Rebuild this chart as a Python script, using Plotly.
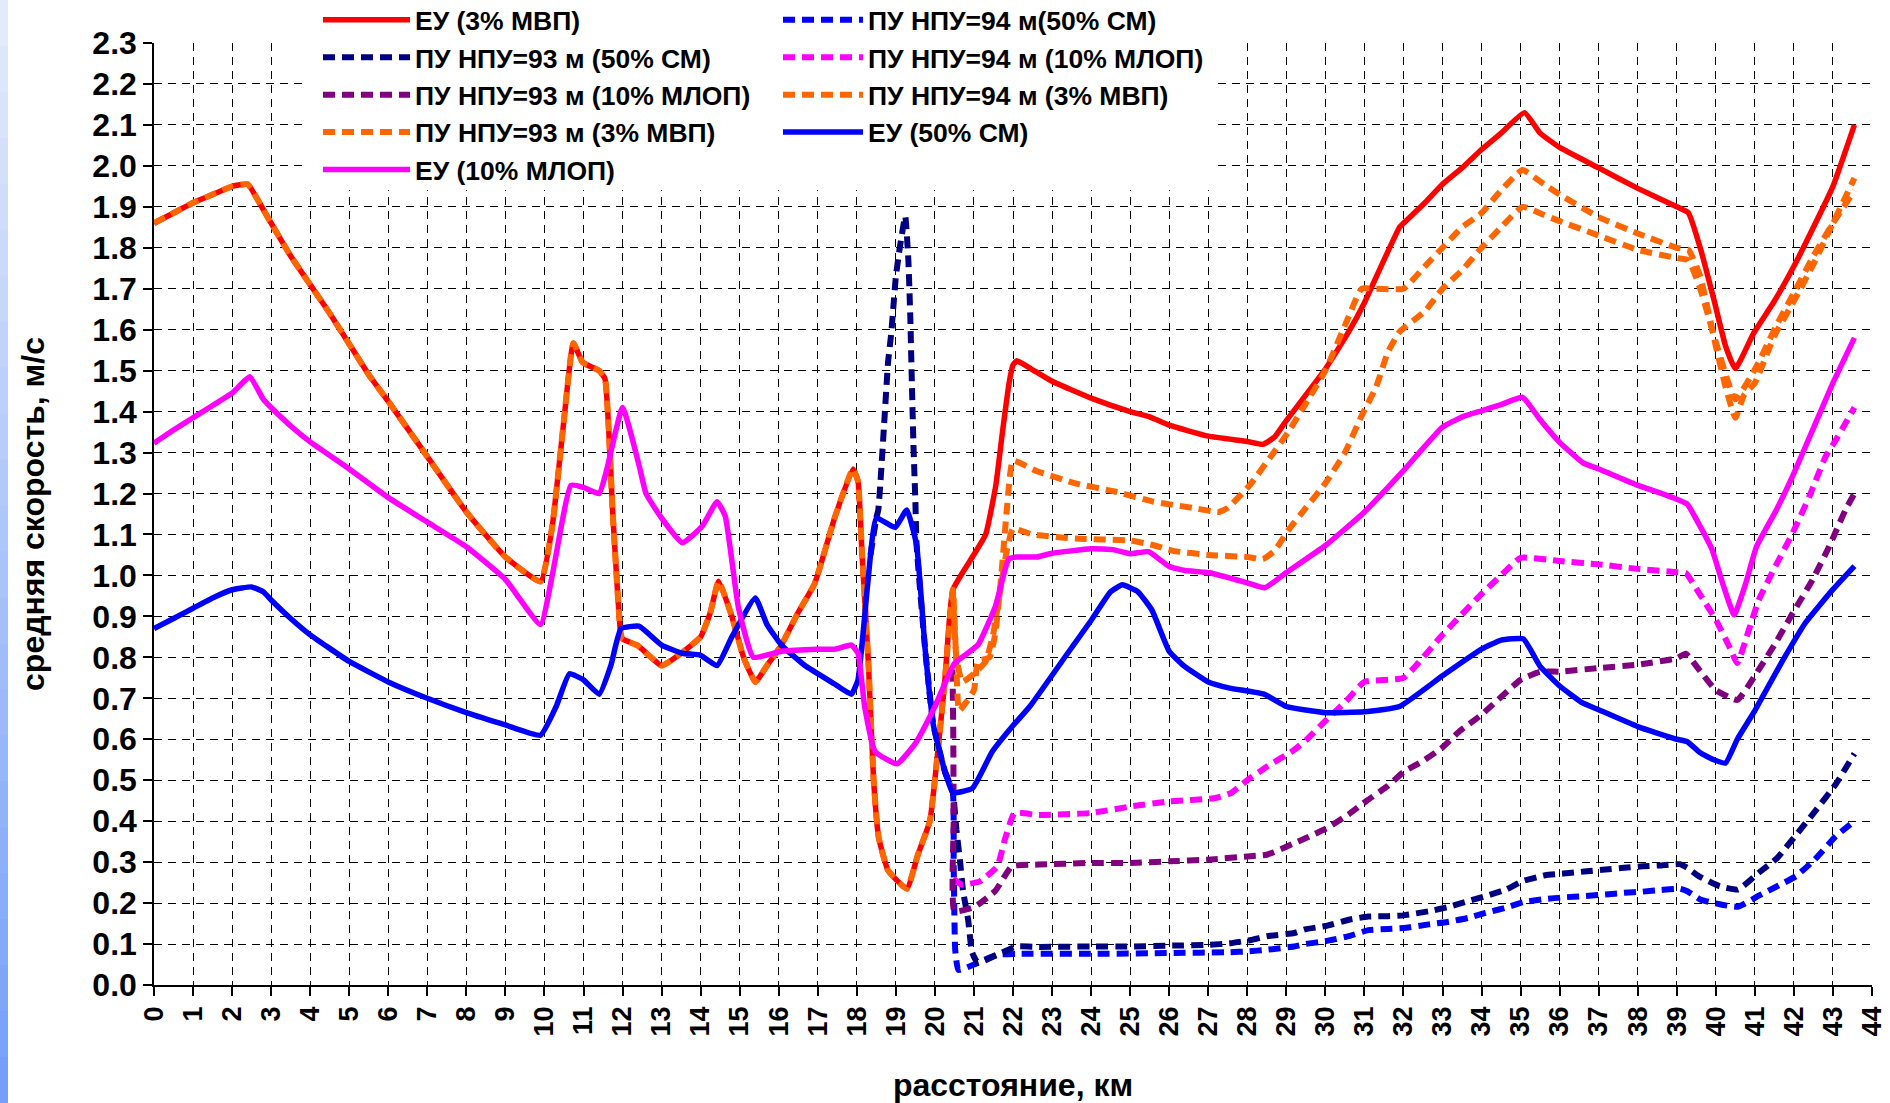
import plotly.graph_objects as go

# ---------------- data ----------------
EU3_X = [0, 0.5, 1, 1.5, 2.0, 2.4, 2.7, 3.0, 3.5, 4.0, 4.5, 5.0, 5.5, 6.0, 7.0, 8.0, 9.0, 9.9,
         10.2, 10.5, 10.74, 10.98, 11.4, 11.55, 11.75, 11.95, 12.0, 12.4, 13.0, 13.5, 14.0, 14.25,
         14.46, 14.8, 15.1, 15.4, 15.7, 16.07, 16.5, 16.92, 17.43, 17.9, 18.03, 18.13, 18.3, 18.43,
         18.56, 18.8, 19.28, 19.57, 19.87, 20.08, 20.26, 20.46]
EU3_Y = [1.86, 1.885, 1.91, 1.93, 1.95, 1.955, 1.91, 1.86, 1.78, 1.71, 1.64, 1.565, 1.49, 1.425,
         1.29, 1.155, 1.045, 0.985, 1.12, 1.38, 1.567, 1.52, 1.50, 1.48, 1.15, 0.86, 0.845, 0.828,
         0.78, 0.81, 0.85, 0.91, 0.986, 0.90, 0.80, 0.74, 0.78, 0.83, 0.91, 0.98, 1.14, 1.26, 1.23,
         1.06, 0.78, 0.50, 0.36, 0.28, 0.235, 0.32, 0.40, 0.575, 0.75, 0.965]
EU3_X2 = [20.96, 21.3, 21.56, 21.73, 21.9, 22.0, 22.1, 22.47, 23.0, 24.0, 25.0, 25.5, 26.0, 27.0,
          28.0, 28.4, 28.7, 29.0, 30.0, 30.6, 31.0, 31.5, 31.9, 32.0, 32.55, 33.0, 33.5, 34.0, 34.5,
          35.1, 35.5, 36.0, 37.0, 38.0, 39.0, 39.3, 39.6, 39.96, 40.25, 40.5, 40.96, 41.5, 42.0,
          42.5, 43.0, 43.55]
EU3_Y2 = [1.045, 1.10, 1.22, 1.35, 1.47, 1.514, 1.524, 1.504, 1.474, 1.433, 1.40, 1.387, 1.367,
          1.34, 1.327, 1.32, 1.338, 1.378, 1.504, 1.595, 1.666, 1.77, 1.85, 1.86, 1.91, 1.955,
          1.995, 2.04, 2.08, 2.13, 2.08, 2.045, 1.995, 1.945, 1.90, 1.885, 1.80, 1.67, 1.56, 1.505,
          1.59, 1.67, 1.755, 1.85, 1.95, 2.10]

PU93_3_TAIL_X = [20.55, 20.62, 21.0, 21.1, 21.4, 21.55, 21.7, 21.85, 22.0, 22.6, 23.6, 24.6, 25.6,
                 26.6, 27.27, 27.5, 28.06, 28.6, 29.05, 29.5, 30.0, 30.5, 30.93, 31.3, 32.0, 32.55,
                 33.0, 33.5, 34.0, 34.5, 35.05, 35.6, 36.0, 37.0, 38.0, 39.0, 39.3, 39.6, 40.0,
                 40.25, 40.5, 40.72, 41.0, 41.5, 42.0, 42.5, 43.0, 43.55]
PU93_3_TAIL_Y = [0.78, 0.67, 0.72, 0.79, 0.80, 0.86, 1.0, 1.17, 1.28, 1.255, 1.225, 1.205, 1.18,
                 1.165, 1.155, 1.165, 1.22, 1.29, 1.35, 1.42, 1.50, 1.61, 1.70, 1.70, 1.70, 1.755,
                 1.80, 1.85, 1.885, 1.94, 1.99, 1.955, 1.93, 1.875, 1.835, 1.80, 1.795, 1.73, 1.56,
                 1.46, 1.385, 1.44, 1.47, 1.585, 1.67, 1.76, 1.86, 1.97]

PU94_3_X = [20.46, 20.55, 20.7, 21.0, 21.3, 21.5, 21.7, 21.85, 22.0, 22.5, 23.6, 25.0, 25.55, 26.1,
            27.0, 28.0, 28.4, 28.7, 29.05, 29.5, 30.0, 30.5, 30.93, 31.3, 31.6, 31.9, 32.55, 33.0,
            33.5, 34.0, 34.5, 35.05, 35.6, 36.0, 37.0, 38.0, 39.0, 39.3, 39.6, 40.0, 40.5, 41.04,
            41.55, 42.0, 42.5, 43.0, 43.55]
PU94_3_Y = [0.965, 0.80, 0.74, 0.76, 0.79, 0.86, 0.98, 1.065, 1.114, 1.10, 1.09, 1.085, 1.075, 1.06,
            1.05, 1.045, 1.04, 1.06, 1.11, 1.165, 1.225, 1.30, 1.39, 1.46, 1.545, 1.595, 1.645, 1.70,
            1.745, 1.80, 1.85, 1.90, 1.88, 1.865, 1.83, 1.795, 1.775, 1.77, 1.70, 1.57, 1.43, 1.51,
            1.61, 1.69, 1.78, 1.86, 1.94]

EU50_X = [0, 0.5, 1, 1.5, 2.0, 2.5, 2.8, 3.0, 3.5, 4.0, 5.0, 6.0, 7.0, 8.0, 9.0, 9.9, 10.3, 10.64,
          11.0, 11.4, 11.7, 11.96, 12.42, 13.0, 13.53, 14.0, 14.42, 14.8, 15.4, 15.7, 16.07, 16.67,
          17.43, 17.86, 18.03, 18.28, 18.5, 18.98, 19.28, 19.53, 19.75, 19.96, 20.26, 20.46, 20.96,
          21.47, 21.97, 22.43, 23.4, 24.0, 24.5, 24.8, 25.2, 25.56, 26.0, 26.37, 27.0, 27.55, 28.43,
          29.0, 30.0, 31.0, 31.9, 33.0, 34.0, 34.5, 35.07, 35.5, 36.0, 36.6, 37.0, 38.0, 39.0,
          39.27, 39.6, 39.95, 40.25, 40.55, 41.0, 41.7, 42.3, 43.0, 43.55]
EU50_Y = [0.87, 0.895, 0.92, 0.945, 0.965, 0.972, 0.96, 0.94, 0.895, 0.855, 0.79, 0.74, 0.70, 0.665,
          0.635, 0.61, 0.68, 0.76, 0.745, 0.71, 0.78, 0.87, 0.876, 0.83, 0.81, 0.805, 0.78, 0.85,
          0.945, 0.88, 0.83, 0.78, 0.735, 0.71, 0.745, 0.98, 1.14, 1.117, 1.16, 1.075, 0.82, 0.635,
          0.52, 0.47, 0.48, 0.57, 0.63, 0.68, 0.81, 0.89, 0.96, 0.977, 0.96, 0.915, 0.815, 0.78,
          0.74, 0.725, 0.71, 0.68, 0.665, 0.667, 0.68, 0.755, 0.82, 0.842, 0.845, 0.778, 0.73,
          0.688, 0.672, 0.631, 0.60, 0.594, 0.567, 0.55, 0.542, 0.60, 0.67, 0.79, 0.885, 0.966,
          1.023]

EU10_X = [0, 0.5, 1, 1.5, 2.0, 2.45, 2.8, 3.0, 3.5, 4.0, 5.0, 6.0, 7.0, 8.0, 9.0, 9.9, 10.2, 10.68,
          11.0, 11.4, 11.6, 12.0, 12.42, 12.6, 13.0, 13.53, 14.04, 14.42, 14.63, 14.97, 15.35,
          16.07, 17.0, 17.43, 17.86, 18.03, 18.2, 18.47, 19.03, 19.5, 20.0, 20.5, 21.1, 21.55,
          21.89, 22.1, 22.6, 23.0, 24.0, 24.56, 25.0, 25.47, 26.0, 26.4, 27.0, 28.0, 28.45, 29.0,
          30.0, 31.0, 32.0, 33.0, 33.5, 34.0, 34.5, 35.05, 35.5, 36.0, 36.6, 37.0, 38.0, 38.55,
          39.0, 39.27, 39.5, 39.9, 40.17, 40.47, 40.77, 41.04, 41.55, 41.97, 42.56, 43.0, 43.55]
EU10_Y = [1.323, 1.355, 1.385, 1.415, 1.445, 1.485, 1.43, 1.41, 1.365, 1.326, 1.26, 1.19, 1.13,
          1.07, 0.99, 0.88, 1.0, 1.22, 1.215, 1.20, 1.26, 1.41, 1.27, 1.20, 1.14, 1.08, 1.12, 1.18,
          1.145, 0.92, 0.80, 0.815, 0.82, 0.82, 0.83, 0.81, 0.68, 0.57, 0.54, 0.59, 0.68, 0.785,
          0.83, 0.925, 1.04, 1.045, 1.045, 1.054, 1.065, 1.063, 1.053, 1.058, 1.022, 1.012, 1.007,
          0.982, 0.97, 1.007, 1.073, 1.155, 1.256, 1.362, 1.387, 1.402, 1.417, 1.435, 1.38, 1.325,
          1.275, 1.26, 1.22, 1.202, 1.186, 1.174, 1.137, 1.064, 0.982, 0.904, 0.982, 1.07, 1.16,
          1.243, 1.373, 1.47, 1.58]

PU93_50_X = [18.35, 18.5, 18.55, 18.6, 18.7, 18.8, 18.88, 18.94, 19.0, 19.1, 19.24, 19.32, 19.37,
             19.41, 19.45, 19.5, 19.53, 19.75, 19.96, 20.26, 20.46, 20.55, 20.64, 20.72, 20.85,
             20.95, 21.1, 21.6, 22.08, 22.64, 24.0, 25.0, 26.0, 27.0, 27.57, 28.1, 28.5, 29.2,
             29.48, 30.0, 30.63, 31.1, 31.6, 32.0, 32.65, 33.13, 33.66, 34.1, 34.63, 35.06, 35.63,
             36.1, 36.63, 37.17, 37.65, 38.13, 38.6, 39.08, 39.27, 39.56, 40.1, 40.57, 41.1, 41.57,
             42.06, 42.54, 43.07, 43.55]
PU93_50_Y = [1.05, 1.14, 1.16, 1.22, 1.37, 1.52, 1.59, 1.66, 1.73, 1.80, 1.877, 1.77, 1.63, 1.47,
             1.32, 1.18, 1.075, 0.82, 0.635, 0.52, 0.47, 0.38, 0.306, 0.23, 0.16, 0.08, 0.054,
             0.074, 0.094, 0.093, 0.094, 0.094, 0.096, 0.098, 0.102, 0.11, 0.119, 0.127, 0.136,
             0.144, 0.16, 0.167, 0.168, 0.17, 0.18, 0.19, 0.205, 0.217, 0.233, 0.254, 0.268, 0.272,
             0.277, 0.282, 0.286, 0.29, 0.292, 0.295, 0.286, 0.266, 0.241, 0.233, 0.274, 0.31,
             0.367, 0.424, 0.49, 0.565]

PU94_50_X = [20.26, 20.46, 20.48, 20.5, 20.52, 20.6, 21.0, 21.6, 22.08, 24.0, 26.0, 27.57, 28.0,
             28.5, 29.2, 29.48, 30.0, 30.63, 31.1, 31.6, 32.0, 32.65, 33.13, 33.66, 34.1, 34.63,
             35.06, 35.63, 36.1, 36.63, 37.17, 37.65, 38.13, 38.6, 39.08, 39.27, 39.6, 40.1, 40.57,
             41.1, 41.57, 42.06, 42.54, 43.07, 43.55]
PU94_50_Y = [0.52, 0.47, 0.30, 0.16, 0.086, 0.037, 0.05, 0.074, 0.076, 0.076, 0.078, 0.08, 0.082,
             0.086, 0.094, 0.10, 0.107, 0.12, 0.134, 0.137, 0.139, 0.148, 0.154, 0.164, 0.176,
             0.189, 0.202, 0.21, 0.214, 0.217, 0.221, 0.225, 0.228, 0.232, 0.235, 0.229, 0.209,
             0.197, 0.191, 0.218, 0.241, 0.266, 0.307, 0.363, 0.40]

PU93_10_X = [20.45, 20.47, 20.48, 20.5, 21.0, 21.1, 21.55, 21.97, 22.64, 24.0, 25.0, 26.0, 27.0,
             28.0, 28.5, 29.2, 29.53, 30.06, 30.6, 31.06, 31.6, 32.0, 32.5, 33.0, 33.44, 34.0, 35.0,
             35.5, 36.0, 37.0, 38.0, 39.0, 39.23, 39.57, 40.0, 40.55, 41.1, 41.53, 41.97, 42.48,
             42.9, 43.32, 43.55]
PU93_10_Y = [0.77, 0.62, 0.40, 0.18, 0.19, 0.196, 0.23, 0.29, 0.294, 0.298, 0.298, 0.302, 0.306,
             0.314, 0.318, 0.346, 0.36, 0.384, 0.417, 0.45, 0.486, 0.52, 0.547, 0.58, 0.62, 0.66,
             0.745, 0.765, 0.765, 0.774, 0.782, 0.798, 0.809, 0.77, 0.72, 0.696, 0.77, 0.835, 0.908,
             0.99, 1.07, 1.16, 1.20]

PU94_10_X = [20.47, 20.68, 21.15, 21.6, 21.79, 22.04, 22.64, 24.0, 25.02, 26.0, 27.15, 27.57, 28.0,
             28.5, 29.2, 29.53, 30.0, 30.5, 31.0, 32.0, 33.0, 34.0, 34.5, 35.0, 36.0, 37.0, 38.0,
             39.0, 39.23, 39.57, 40.0, 40.34, 40.55, 40.85, 41.1, 41.53, 41.97, 42.4, 42.81, 43.07,
             43.55]
PU94_10_Y = [0.26, 0.245, 0.253, 0.29, 0.355, 0.42, 0.415, 0.42, 0.436, 0.448, 0.456, 0.468, 0.50,
             0.533, 0.574, 0.60, 0.645, 0.69, 0.74, 0.75, 0.855, 0.955, 1.0, 1.043, 1.035, 1.027,
             1.016, 1.008, 1.006, 0.957, 0.892, 0.827, 0.786, 0.868, 0.94, 1.023, 1.104, 1.194, 1.29,
             1.33, 1.41]

X_TICKS = list(range(0, 45))
Y_TICKS = [round(i * 0.1, 1) for i in range(0, 24)]

NAMES = {
    "eu3": "ЕУ (3% МВП)",
    "pu94_50": "ПУ НПУ=94 м(50% СМ)",
    "pu93_50": "ПУ НПУ=93 м (50% СМ)",
    "pu94_10": "ПУ НПУ=94 м (10% МЛОП)",
    "pu93_10": "ПУ НПУ=93 м (10% МЛОП)",
    "pu94_3": "ПУ НПУ=94 м (3% МВП)",
    "pu93_3": "ПУ НПУ=93 м (3% МВП)",
    "eu50": "ЕУ (50% СМ)",
    "eu10": "ЕУ (10% МЛОП)",
}

# ---------------- figure ----------------
FONT = "Liberation Sans, Arial, sans-serif"
W, H = 1890, 1103
ML, MR, MT, MB = 154, 18, 43, 118
PW, PH = W - ML - MR, H - MT - MB

def px_to_paper_x(px):
    return (px - ML) / PW

def px_to_paper_y(py):
    return (H - MB - py) / PH

DASH = "12px,7px"
SOLID_W = 5.5
DASH_W = 6

eu3_x = EU3_X + EU3_X2
eu3_y = EU3_Y + EU3_Y2
pu93_3_x = EU3_X + PU93_3_TAIL_X
pu93_3_y = EU3_Y + PU93_3_TAIL_Y

series = [
    ("eu3", eu3_x, eu3_y, "#FF0000", None, "legend"),
    ("pu94_50", PU94_50_X, PU94_50_Y, "#0000FF", DASH, "legend2"),
    ("pu93_50", PU93_50_X, PU93_50_Y, "#000080", DASH, "legend"),
    ("pu94_10", PU94_10_X, PU94_10_Y, "#FF00FF", DASH, "legend2"),
    ("pu93_10", PU93_10_X, PU93_10_Y, "#800080", DASH, "legend"),
    ("pu94_3", PU94_3_X, PU94_3_Y, "#FF6600", DASH, "legend2"),
    ("pu93_3", pu93_3_x, pu93_3_y, "#FF6600", DASH, "legend"),
    ("eu50", EU50_X, EU50_Y, "#0000FF", None, "legend2"),
    ("eu10", EU10_X, EU10_Y, "#FF00FF", None, "legend"),
]

fig = go.Figure()
for key, xs, ys, color, dash, leg in series:
    fig.add_trace(go.Scatter(
        x=xs, y=ys, mode="lines", name=NAMES[key], legend=leg,
        line=dict(color=color, width=DASH_W if dash else SOLID_W,
                  dash=dash if dash else "solid", shape="spline", smoothing=0.4),
    ))

# left decorative gradient strip
shapes = []
N = 24
top_c = (226, 234, 251)
bot_c = (118, 160, 247)
for i in range(N):
    t = i / (N - 1)
    c = tuple(int(round(top_c[k] + (bot_c[k] - top_c[k]) * t)) for k in range(3))
    y0 = i * H / N
    y1 = (i + 1) * H / N + 1
    shapes.append(dict(type="rect", xref="paper", yref="paper",
                       x0=px_to_paper_x(0), x1=px_to_paper_x(8),
                       y0=px_to_paper_y(y0), y1=px_to_paper_y(y1),
                       fillcolor="rgb(%d,%d,%d)" % c, line=dict(width=0), layer="above"))
# white legend background box
shapes.append(dict(type="rect", xref="paper", yref="paper",
                   x0=px_to_paper_x(307), x1=px_to_paper_x(1215),
                   y0=px_to_paper_y(190), y1=px_to_paper_y(0),
                   fillcolor="white", line=dict(width=0), layer="above"))

LEG_FONT = dict(size=26.5, family=FONT, weight="bold")
fig.update_layout(
    width=W, height=H,
    margin=dict(l=ML, r=MR, t=MT, b=MB, autoexpand=False),
    paper_bgcolor="white", plot_bgcolor="white",
    font=dict(family=FONT, color="black"),
    shapes=shapes,
    legend=dict(x=px_to_paper_x(318), y=px_to_paper_y(-4), xanchor="left", yanchor="top",
                bgcolor="rgba(0,0,0,0)", font=LEG_FONT, itemwidth=87, tracegroupgap=0),
    legend2=dict(x=px_to_paper_x(778), y=px_to_paper_y(-4), xanchor="left", yanchor="top",
                 bgcolor="rgba(0,0,0,0)", font=LEG_FONT, itemwidth=80, tracegroupgap=0),
    xaxis=dict(range=[0, 44], tickvals=X_TICKS, ticktext=[str(v) for v in X_TICKS],
               showgrid=True, gridcolor="black", gridwidth=1, griddash="8px,6px",
               showline=True, linecolor="black", linewidth=1.5, zeroline=False,
               ticks="outside", ticklen=9, tickcolor="black", tickwidth=1.5,
               tickangle=-90, tickfont=dict(size=27, family=FONT, weight="bold"),
               title=dict(text="расстояние, км", standoff=40,
                          font=dict(size=32, family=FONT, weight="bold"))),
    yaxis=dict(range=[0, 2.3], tickvals=Y_TICKS, ticktext=["%.1f" % v for v in Y_TICKS],
               showgrid=True, gridcolor="black", gridwidth=1, griddash="8px,6px",
               showline=True, linecolor="black", linewidth=1.5, zeroline=False,
               ticks="outside", ticklen=9, tickcolor="black", tickwidth=1.5,
               ticklabelstandoff=0,
               tickfont=dict(size=32, family=FONT, weight="bold"),
               title=dict(text="средняя скорость, м/с", standoff=38,
                          font=dict(size=32, family=FONT, weight="bold"))),
)

fig.write_html("out.html", config={"displayModeBar": False},
               post_script="document.body.style.margin='0';document.body.style.overflow='hidden';")
